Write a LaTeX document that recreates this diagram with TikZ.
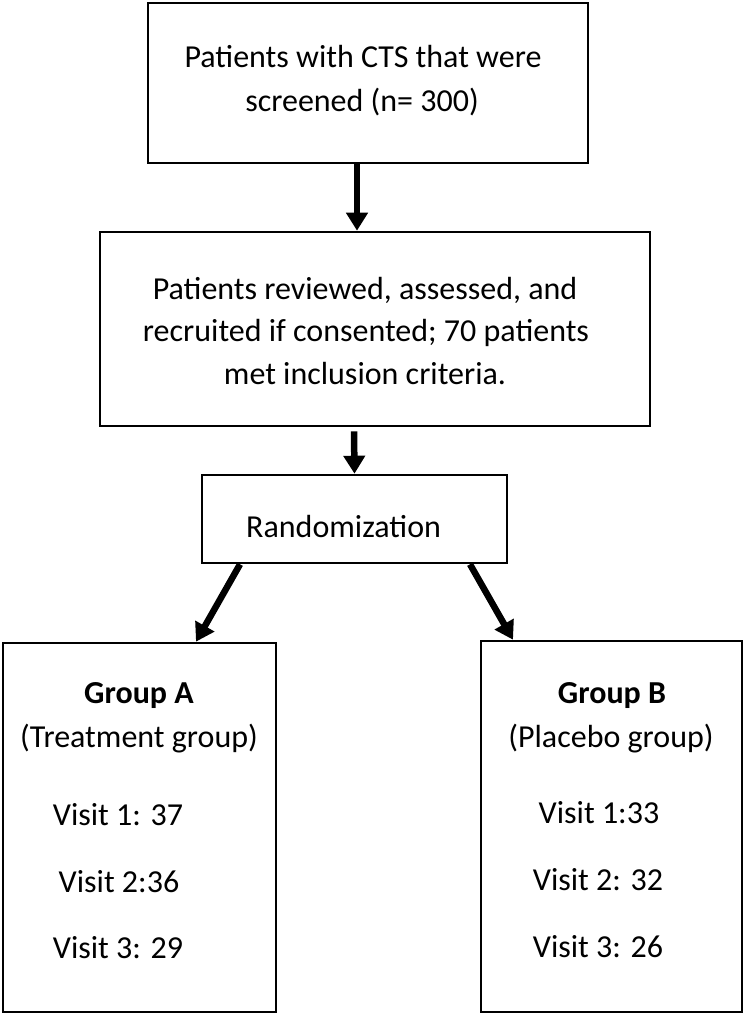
\documentclass[tikz,border=0pt]{standalone}
\usepackage{fontspec}
\setmainfont{Carlito}
\usetikzlibrary{arrows.meta}
\begin{document}
\begin{tikzpicture}[x=1pt,y=-1pt,
  box/.style={draw, line width=2.6pt, inner sep=0pt},
  txt/.style={anchor=base, inner sep=0pt, font=\fontsize{32}{43}\selectfont},
  arr/.style={line width=6.5pt, -{Triangle[width=21pt,length=18pt]}}]
\useasboundingbox (0,0) rectangle (744,1014);
% boxes
\node[box, minimum width=440pt, minimum height=160pt] (b1) at (368,83) {};
\node[box, minimum width=550pt, minimum height=194pt] (b2) at (375,329) {};
\node[box, minimum width=305pt, minimum height=88pt] (b3) at (354.5,519) {};
\node[box, minimum width=273pt, minimum height=369pt] (bA) at (139.5,827.5) {};
\node[box, minimum width=261pt, minimum height=371pt] (bB) at (611.5,826.5) {};
% texts
\node[txt] (t11) at (363,68) {Patients with CTS that were};
\node[txt] (t12) at (362,112) {screened (n= 300)};
\node[txt] (t21) at (365,299) {Patients reviewed, assessed, and};
\node[txt] (t22) at (366,341) {recruited if consented; 70 patients};
\node[txt] (t23) at (365,384) {met inclusion criteria.};
\node[txt, anchor=base west] (t3) at (246,537) {Randomization};
\node[txt] (tA1) at (139,703) {\bfseries Group A};
\node[txt] (tA2) at (139,747) {(Treatment group)};
\node[txt] (tA3) at (118,825) {Visit 1: 37};
\node[txt] (tA4) at (119,892) {Visit 2:36};
\node[txt] (tA5) at (118,958) {Visit 3: 29};
\node[txt] (tB1) at (612,703) {\bfseries Group B};
\node[txt] (tB2) at (611,747) {(Placebo group)};
\node[txt] (tB3) at (599,823) {Visit 1:33};
\node[txt] (tB4) at (598,890) {Visit 2: 32};
\node[txt] (tB5) at (598,957) {Visit 3: 26};
% arrows
\draw[arr] ([xshift=-11pt]b1.south) -- ([xshift=-18pt]b2.north);
\draw[arr] ([xshift=-21pt,yshift=-4pt]b2.south) -- (b3.north);
\draw[arr] ([xshift=-114.5pt]b3.south) -- ([xshift=56.5pt]bA.north);
\draw[arr] ([xshift=115.5pt]b3.south) -- ([xshift=-98.5pt]bB.north);
\end{tikzpicture}
\end{document}
